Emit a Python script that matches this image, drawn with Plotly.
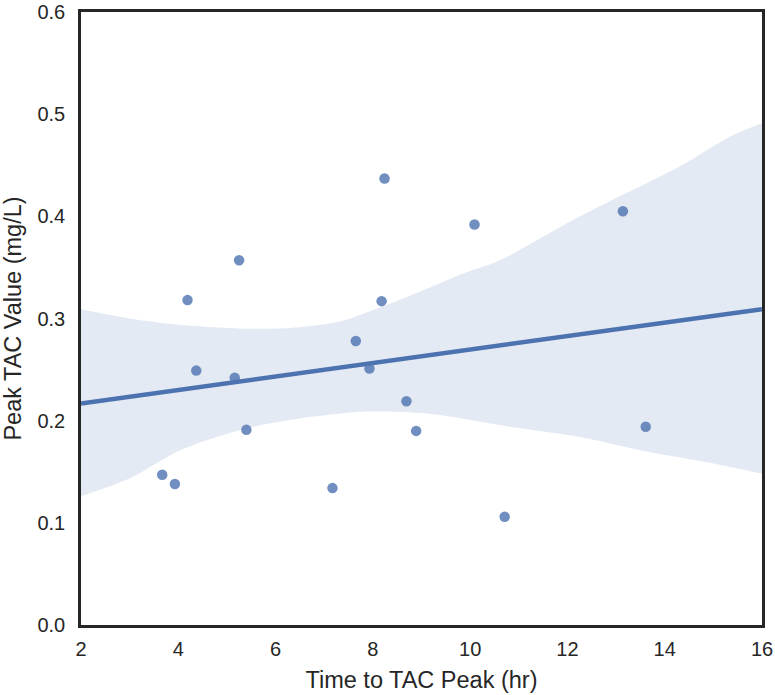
import numpy as np
import plotly.graph_objects as go

# Data
time_hr = [3.67, 3.93, 4.37, 5.16, 5.40, 7.17, 7.65, 7.93, 4.19, 5.25,
           8.24, 8.18, 10.09, 13.14, 8.69, 8.89, 10.71, 13.61]
peak_tac = [0.147, 0.138, 0.249, 0.242, 0.191, 0.134, 0.278, 0.251, 0.318, 0.357,
            0.437, 0.317, 0.392, 0.405, 0.219, 0.190, 0.106, 0.194]

# Confidence band
band_upper_x = [2.0, 3.0, 4.0, 5.47, 6.36, 7.32, 8.21, 8.90, 9.86, 10.61, 12.26, 14.31, 15.34, 16.0]
band_upper_y = [0.309, 0.300, 0.294, 0.290, 0.291, 0.297, 0.312, 0.325, 0.344, 0.357, 0.400, 0.449, 0.478, 0.491]
band_lower_x = [2.0, 3.01, 4.04, 5.41, 6.78, 7.80, 9.11, 10.89, 12.26, 13.63, 15.0, 16.0]
band_lower_y = [0.126, 0.1436, 0.171, 0.1925, 0.204, 0.2088, 0.207, 0.1935, 0.184, 0.1697, 0.158, 0.148]

x_ticks = [2, 4, 6, 8, 10, 12, 14, 16]
y_ticks = [0.0, 0.1, 0.2, 0.3, 0.4, 0.5, 0.6]

slope, intercept = np.polyfit(time_hr, peak_tac, 1)
line_x = np.array([2.0, 16.0])
line_y = intercept + slope * line_x

BLUE = "#4c72b0"
TXT = "#262626"
FONT = "Liberation Sans, Arial, sans-serif"

fig = go.Figure()
fig.add_trace(go.Scatter(x=band_lower_x, y=band_lower_y, mode="lines",
                         line=dict(width=0, shape="spline", smoothing=0.8), showlegend=False, hoverinfo="skip"))
fig.add_trace(go.Scatter(x=band_upper_x, y=band_upper_y, mode="lines",
                         line=dict(width=0, shape="spline", smoothing=0.8), fill="tonexty",
                         fillcolor="rgba(76,114,176,0.15)", showlegend=False, hoverinfo="skip"))
fig.add_trace(go.Scatter(x=time_hr, y=peak_tac, mode="markers",
                         marker=dict(size=10.5, color=BLUE, opacity=0.8), showlegend=False))
fig.add_trace(go.Scatter(x=line_x, y=line_y, mode="lines",
                         line=dict(color=BLUE, width=4.5), showlegend=False))

axis_common = dict(showgrid=False, zeroline=False, showline=True, mirror=True,
                   linecolor=TXT, linewidth=2.5, ticks="outside",
                   tickcolor="rgba(0,0,0,0)", automargin=False,
                   tickfont=dict(family=FONT, size=20, color=TXT))

fig.update_layout(
    width=775, height=695,
    margin=dict(l=81, r=13, t=12, b=70),
    paper_bgcolor="white", plot_bgcolor="white",
    font=dict(family=FONT, color=TXT),
    xaxis=dict(range=[2, 16], tickvals=x_ticks, ticktext=[str(v) for v in x_ticks], ticklen=4,
               title=dict(text="Time to TAC Peak (hr)", font=dict(family=FONT, size=23.5, color=TXT), standoff=13),
               **axis_common),
    yaxis=dict(range=[0, 0.6], tickvals=y_ticks, ticktext=[f"{v:.1f}" for v in y_ticks], ticklen=9,
               title=dict(text="Peak TAC Value (mg/L)", font=dict(family=FONT, size=23.5, color=TXT), standoff=11),
               **axis_common),
)

# remove the default 8px body margin so the 775x695 figure fills the window exactly
fig.write_html("out.html", config={"displayModeBar": False},
               post_script="document.body.style.margin='0';")
